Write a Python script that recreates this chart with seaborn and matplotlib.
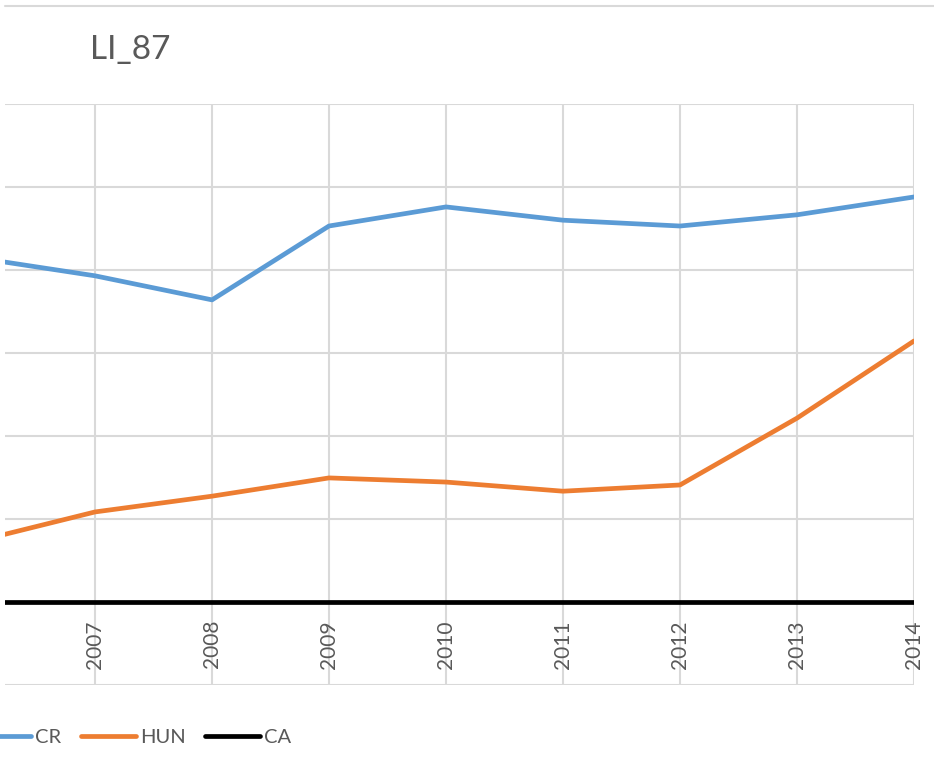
import pandas as pd
import matplotlib.pyplot as plt
import seaborn as sns
from matplotlib.lines import Line2D

# Values (gridline step = 0.2, CA sits on zero)
years = [2006, 2007, 2008, 2009, 2010, 2011, 2012, 2013, 2014]
cr = [0.829, 0.786, 0.728, 0.906, 0.952, 0.920, 0.906, 0.933, 0.976]
hun = [0.147, 0.217, 0.255, 0.299, 0.289, 0.267, 0.282, 0.443, 0.629]
ca = [0, 0, 0, 0, 0, 0, 0, 0, 0]
series = ["CR", "HUN", "CA"]
colors = ["#5b9bd5", "#ed7d31", "#000000"]
title = "LI_87"

df = pd.DataFrame({"year": years * 3,
                   "value": cr + hun + ca,
                   "series": sum([[s] * len(years) for s in series], [])})

sns.set_style("white")
plt.rcParams["font.family"] = ["Lato", "DejaVu Sans"]

W, H = 934, 771
fig = plt.figure(figsize=(W / 100, H / 100), dpi=100)
# plot area: x 5..914 px, y 104..685 px
ax = fig.add_axes([5 / W, (H - 685) / H, 909 / W, 581 / H])

sns.lineplot(data=df, x="year", y="value", hue="series", hue_order=series,
             palette=colors, linewidth=3.4, ax=ax, legend=True,
             solid_capstyle="round", solid_joinstyle="round", zorder=3)

# category labels hang under the zero line, like Excel
ax.spines["bottom"].set_position(("data", 0))
for s in ax.spines.values():
    s.set_visible(False)

ax.set_xlim(2007 - 90 / 117, 2014)
ax.set_ylim(-0.2, 1.2)
ax.set_yticks([-0.2, 0, 0.2, 0.4, 0.6, 0.8, 1.0, 1.2])
ax.set_yticklabels([])
ax.set_xticks(years[1:])
ax.set_xticklabels([str(y) for y in years[1:]], rotation=90, color="#595959",
                   fontsize=15, va="top")
ax.set_xlabel("")
ax.set_ylabel("")
ax.grid(True, color="#d9d9d9", linewidth=1.5)
ax.set_axisbelow(True)
ax.tick_params(axis="both", length=0)
ax.tick_params(axis="x", pad=13)

# chart border at the top
fig.add_artist(Line2D([5 / W, 1], [1 - 6 / H, 1 - 6 / H], color="#d9d9d9",
                      linewidth=1.5, transform=fig.transFigure))

fig.text(90 / W, 1 - 50 / H, title, fontsize=24, color="#595959",
         va="center", ha="left")

handles, labels = ax.get_legend_handles_labels()
ax.legend_.remove()
leg = fig.legend(handles, labels, loc="center left", ncol=3,
                 bbox_to_anchor=(-24 / W, (H - 737) / H), frameon=False,
                 fontsize=14.5, handlelength=2.75, handletextpad=0.2,
                 columnspacing=0.95, borderpad=0, borderaxespad=0)
for t in leg.get_texts():
    t.set_color("#595959")
for h in leg.get_lines():
    h.set_linewidth(3.4)
    h.set_solid_capstyle("round")

fig.savefig("out.png", dpi=100)
